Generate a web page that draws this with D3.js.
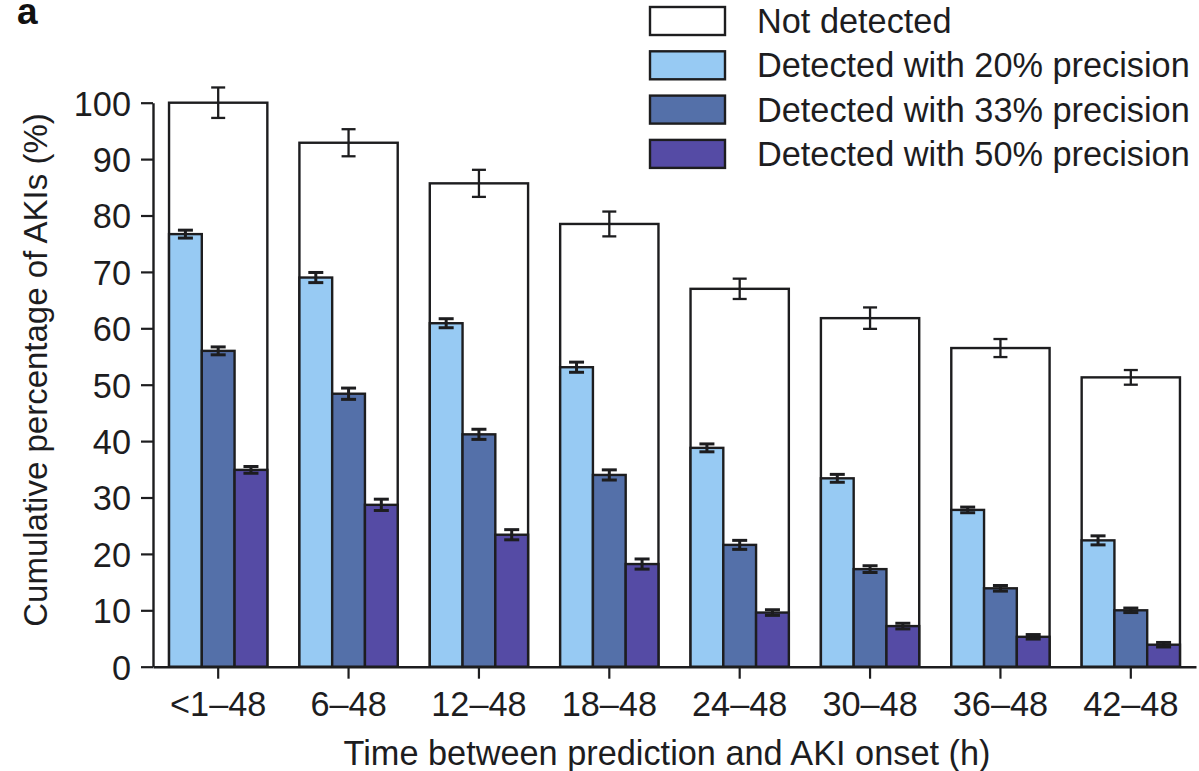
<!DOCTYPE html>
<html>
<head>
<meta charset="utf-8">
<script src="https://cdn.jsdelivr.net/npm/d3@7"></script>
<style>
  html, body { margin: 0; padding: 0; background: #fff; }
  svg { display: block; font-family: "Liberation Sans", Arial, Helvetica, sans-serif; }
</style>
</head>
<body>
<svg id="chart" width="1199" height="771"></svg>
<script>
// Time windows before AKI onset (h)
const windows = ["<1\u201348", "6\u201348", "12\u201348", "18\u201348", "24\u201348", "30\u201348", "36\u201348", "42\u201348"];

// Cumulative percentage of AKIs (%) per window
const allAkis   = [100, 92.9, 85.7, 78.5, 67.0, 61.8, 56.5, 51.3];
const prec20    = [76.7, 69.0, 60.9, 53.1, 38.8, 33.4, 27.8, 22.4];
const prec33    = [56.0, 48.4, 41.2, 34.0, 21.6, 17.3, 13.9, 10.0];
const prec50    = [34.9, 28.7, 23.4, 18.2, 9.6, 7.2, 5.3, 3.9];

// Half-widths of the error bars
const errAll    = [2.7, 2.4, 2.4, 2.2, 1.8, 1.9, 1.6, 1.3];
const err20     = [0.7, 0.9, 0.8, 0.9, 0.7, 0.7, 0.5, 0.8];
const err33     = [0.7, 1.0, 0.9, 0.9, 0.8, 0.6, 0.5, 0.4];
const err50     = [0.6, 1.0, 0.9, 0.9, 0.5, 0.5, 0.4, 0.4];

const yTicks = [0, 10, 20, 30, 40, 50, 60, 70, 80, 90, 100];

const legendLabels = ["Not detected", "Detected with 20% precision", "Detected with 33% precision", "Detected with 50% precision"];
const colors = ["#ffffff", "#97caf3", "#5470a9", "#554ba5"];

const svg = d3.select("#chart");
const ink = "#1d1d1f";
const fontSize = 34.3;

const x = d3.scaleBand().domain(windows).range([153, 1196]).paddingInner(0.246).paddingOuter(0.123);
const y = d3.scaleLinear().domain([0, 100]).range([666.7, 102.7]);

const series = [
  { vals: prec20, errs: err20, color: colors[1] },
  { vals: prec33, errs: err33, color: colors[2] },
  { vals: prec50, errs: err50, color: colors[3] }
];

const sub = d3.scaleBand().domain([0, 1, 2]).range([0, x.bandwidth()]);

// Outer white bars: all AKIs
const groups = svg.append("g").selectAll("g")
  .data(windows.map((w, i) => ({ w, i })))
  .join("g")
  .attr("transform", d => `translate(${x(d.w)},0)`);

groups.append("rect")
  .attr("x", 0)
  .attr("y", d => y(allAkis[d.i]))
  .attr("width", x.bandwidth())
  .attr("height", d => y(0) - y(allAkis[d.i]))
  .attr("fill", colors[0])
  .attr("stroke", ink)
  .attr("stroke-width", 2.4);

// Inner bars: detected at each precision
series.forEach((s, k) => {
  groups.append("rect")
    .attr("x", sub(k))
    .attr("y", d => y(s.vals[d.i]))
    .attr("width", sub.bandwidth())
    .attr("height", d => y(0) - y(s.vals[d.i]))
    .attr("fill", s.color)
    .attr("stroke", ink)
    .attr("stroke-width", 2.4);
});

// Error bars
function errorBar(sel, cx, v, e, cap, sw) {
  const g = sel.append("g").attr("stroke", ink).attr("stroke-width", sw).attr("fill", "none");
  g.append("line").attr("x1", cx).attr("x2", cx).attr("y1", d => y(v(d) + e(d))).attr("y2", d => y(v(d) - e(d)));
  g.append("line").attr("x1", cx - cap / 2).attr("x2", cx + cap / 2).attr("y1", d => y(v(d) + e(d))).attr("y2", d => y(v(d) + e(d)));
  g.append("line").attr("x1", cx - cap / 2).attr("x2", cx + cap / 2).attr("y1", d => y(v(d) - e(d))).attr("y2", d => y(v(d) - e(d)));
}
errorBar(groups, x.bandwidth() / 2, d => allAkis[d.i], d => errAll[d.i], 14, 2.3);
series.forEach((s, k) => {
  errorBar(groups, sub(k) + sub.bandwidth() / 2, d => s.vals[d.i], d => s.errs[d.i], 15, 3);
});

// Y axis
const yAxis = svg.append("g")
  .attr("transform", "translate(153,0)")
  .call(d3.axisLeft(y).tickValues(yTicks).tickSize(12).tickPadding(10).tickSizeOuter(0));
yAxis.select(".domain").attr("stroke", ink).attr("stroke-width", 2.4);
yAxis.selectAll(".tick line").attr("stroke", ink).attr("stroke-width", 2.2);
yAxis.selectAll(".tick text").attr("fill", ink).attr("font-size", fontSize).attr("font-family", "Liberation Sans, Arial, sans-serif").attr("dy", "0.36em");

// X axis
const xAxis = svg.append("g")
  .attr("transform", `translate(0,${y(0)})`)
  .call(d3.axisBottom(x).tickSize(12).tickPadding(13).tickSizeOuter(0));
xAxis.select(".domain").attr("stroke", ink).attr("stroke-width", 2.4);
xAxis.selectAll(".tick line").attr("stroke", ink).attr("stroke-width", 2.2);
xAxis.selectAll(".tick text").attr("fill", ink).attr("font-size", fontSize).attr("font-family", "Liberation Sans, Arial, sans-serif");

// Axis titles
svg.append("text")
  .attr("x", 667).attr("y", 765)
  .attr("text-anchor", "middle")
  .attr("font-size", fontSize).attr("fill", ink)
  .text("Time between prediction and AKI onset (h)");

svg.append("text")
  .attr("transform", "translate(47,370) rotate(-90)")
  .attr("text-anchor", "middle")
  .attr("font-size", 33).attr("fill", ink)
  .text("Cumulative percentage of AKIs (%)");

// Panel letter
svg.append("text")
  .attr("x", 17).attr("y", 24)
  .attr("font-size", 37).attr("font-weight", "bold").attr("fill", "#111")
  .text("a");

// Legend
const legend = svg.append("g").selectAll("g")
  .data(legendLabels)
  .join("g")
  .attr("transform", (d, i) => `translate(650,${7 + i * 44.3})`);
legend.append("rect")
  .attr("width", 75).attr("height", 28)
  .attr("fill", (d, i) => colors[i])
  .attr("stroke", ink).attr("stroke-width", 2.4);
legend.append("text")
  .attr("x", 107).attr("y", 26)
  .attr("font-size", fontSize).attr("fill", ink)
  .text(d => d);
</script>
</body>
</html>
